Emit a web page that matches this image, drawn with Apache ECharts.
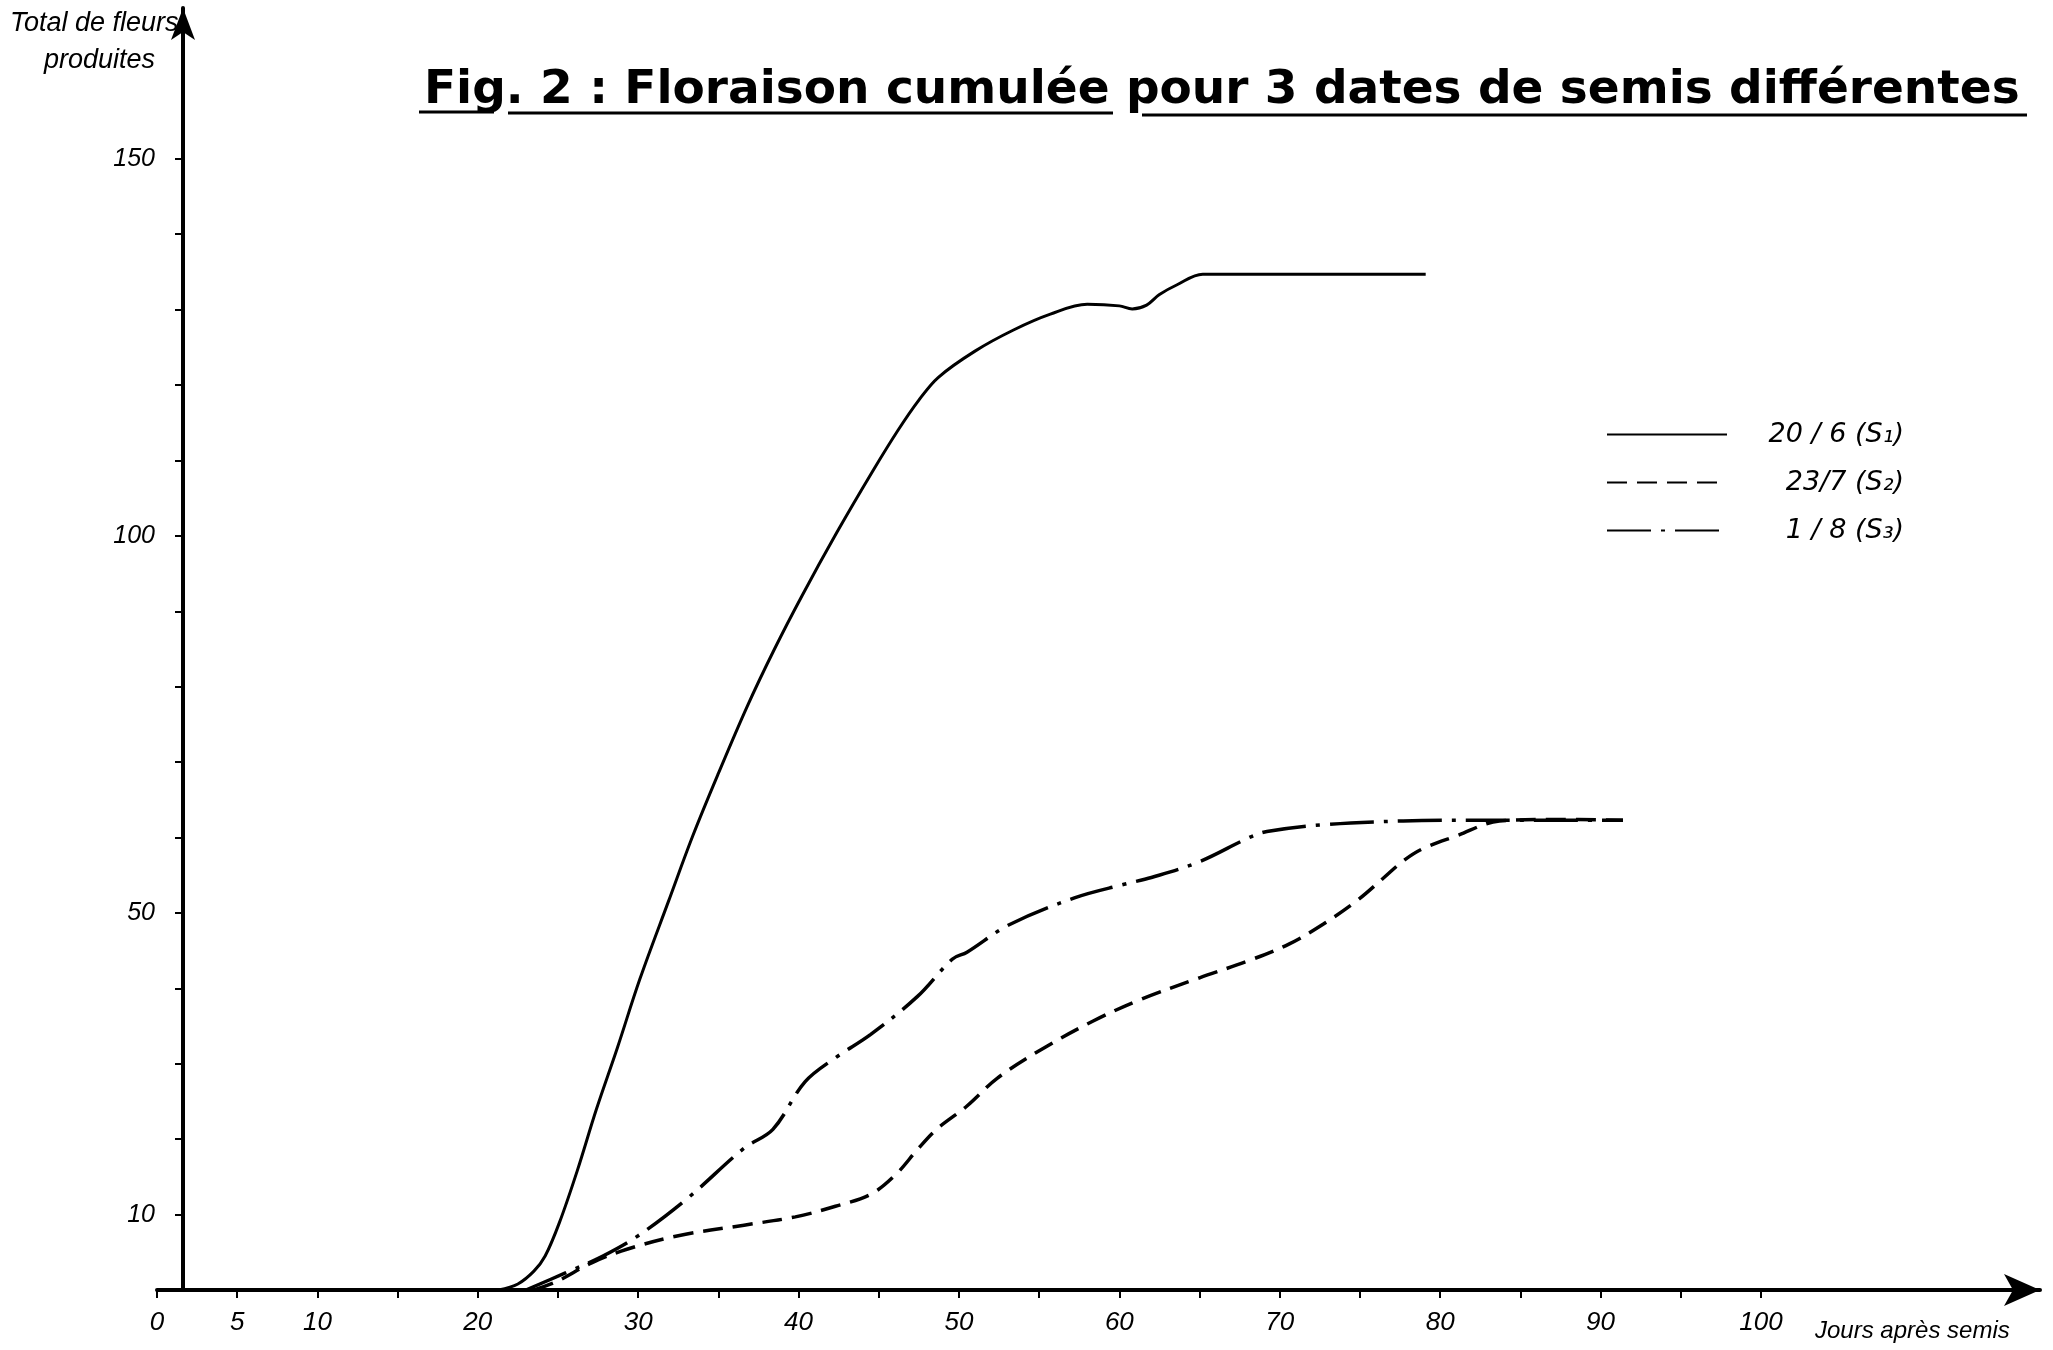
<!DOCTYPE html>
<html><head><meta charset="utf-8">
<script src="https://cdn.jsdelivr.net/npm/echarts@6/dist/echarts.min.js"></script>
<style>html,body{margin:0;padding:0;background:#fff}#c{width:2053px;height:1350px}</style>
</head><body><div id="c"></div><script>
// ---- data ----
const xTickValues = [0,5,10,15,20,25,30,35,40,45,50,55,60,65,70,75,80,85,90,95,100];
const xLabelValues = [0,5,10,20,30,40,50,60,70,80,90,100];
const yTickValues = [10,20,30,40,50,60,70,80,90,100,110,120,130,140,150];
const yLabelValues = [10,50,100,150];

const seriesNames = ['20 / 6 (S\u2081)', '23/7 (S\u2082)', '1 / 8 (S\u2083)'];

const s1Days   = [21.3,22.5,23.5,24.2,25.1,26.2,27.4,28.7,30.1,31.9,33.4,35.0,36.8,38.5,40.2,42.4,44.6,46.2,47.5,48.7,51.0,53.4,55.7,58.0,60.0,60.8,61.7,62.5,63.6,65.2,79.1];
const s1Values = [0,0.8,2.5,4.5,9,15.8,24,32.1,41.2,51.6,60.2,68.5,77.4,85,92,100.5,108.5,114,118,121,124.5,127.3,129.4,130.7,130.5,130.1,130.6,132,133.3,134.7,134.7];

const s2Days   = [23.5,24.9,27.1,29.3,32.5,36.6,39.8,42.3,44.5,46.1,47.4,48.6,50.5,52.4,55.3,58.4,61.3,65.0,68.1,70.6,72.7,74.8,76.4,77.7,78.9,81.0,83.7,86.8,91.4];
const s2Values = [0,1.1,3.6,5.4,7.2,8.6,9.7,11.1,12.7,15.4,18.6,21.3,24.4,28.1,32.1,35.7,38.5,41.4,43.7,45.9,48.5,51.6,54.5,56.9,58.5,60.2,62.2,62.4,62.3];

const s3Days   = [23.0,25.5,27.8,30.0,33.1,36.6,38.4,40.4,42.3,44.5,47.4,49.6,50.5,53.1,57.2,60.3,62.0,65.0,68.1,69.2,72.7,77.7,81.9,91.4];
const s3Values = [0,2.3,4.5,7.2,12.2,18.8,21.3,27.6,30.8,33.9,38.9,43.9,44.8,48.4,52.0,53.8,54.7,56.8,60.0,60.8,61.7,62.2,62.3,62.3];

const pairs = (xs, ys) => xs.map((x, i) => [x, ys[i]]);

const chart = echarts.init(document.getElementById('c'), null, {renderer: 'canvas'});
const labelFont = 'Liberation Sans';
chart.setOption({
  backgroundColor: '#fff',
  animation: false,
  title: [
    {text: 'Fig. 2 : Floraison cumulée pour 3 dates de semis différentes', left: 419, top: 62,
     textStyle: {fontFamily: 'DejaVu Sans', fontWeight: 'bold', fontSize: 47, color: '#000'}},
    {text: 'Total de fleurs', left: 5, top: 5,
     textStyle: {fontFamily: labelFont, fontStyle: 'italic', fontWeight: 'normal', fontSize: 27, color: '#000'}},
    {text: 'produites', left: 39, top: 42,
     textStyle: {fontFamily: labelFont, fontStyle: 'italic', fontWeight: 'normal', fontSize: 27, color: '#000'}},
    {text: 'Jours après semis', left: 1810, top: 1314,
     textStyle: {fontFamily: labelFont, fontStyle: 'italic', fontWeight: 'normal', fontSize: 24, color: '#000'}}
  ],
  legend: {
    orient: 'vertical', left: 1601, top: 416, itemWidth: 120, itemHeight: 20, itemGap: 21,
    itemStyle: {opacity: 0},
    formatter: name => '{t|' + name + '}',
    textStyle: {color: '#000', rich: {t: {fontFamily: 'DejaVu Sans', fontStyle: 'italic', fontSize: 27, color: '#000', width: 172, align: 'right'}}},
    data: seriesNames
  },
  grid: {left: 157, right: 13, top: 8, bottom: 60, containLabel: false},
  xAxis: {
    type: 'value', min: 0, max: 117.4,
    splitLine: {show: false},
    axisLine: {show: true, lineStyle: {color: '#000', width: 4}, symbol: ['none', 'arrow'], symbolSize: [24, 36]},
    axisTick: {show: true, length: 8, lineStyle: {color: '#000', width: 2}, customValues: xTickValues},
    axisLabel: {customValues: xLabelValues, margin: 20, fontFamily: labelFont, fontStyle: 'italic', fontSize: 26, color: '#000'}
  },
  yAxis: {
    type: 'value', min: 0, max: 170, offset: -26,
    splitLine: {show: false},
    axisLine: {show: true, lineStyle: {color: '#000', width: 4}, symbol: ['none', 'arrow'], symbolSize: [18, 32]},
    axisTick: {show: true, length: 8, lineStyle: {color: '#000', width: 2}, customValues: yTickValues},
    axisLabel: {customValues: yLabelValues, margin: 28, fontFamily: labelFont, fontStyle: 'italic', fontSize: 25, color: '#000'}
  },
  series: [
    {name: seriesNames[0], type: 'line', data: pairs(s1Days, s1Values), smooth: 0.35, showSymbol: false, symbol: 'none',
     lineStyle: {color: '#000', width: 3, type: 'solid'}, itemStyle: {color: '#000'}},
    {name: seriesNames[1], type: 'line', data: pairs(s2Days, s2Values), smooth: 0.35, showSymbol: false, symbol: 'none',
     lineStyle: {color: '#000', width: 3.5, type: [20, 10]}, itemStyle: {color: '#000'}},
    {name: seriesNames[2], type: 'line', data: pairs(s3Days, s3Values), smooth: 0.35, showSymbol: false, symbol: 'none',
     lineStyle: {color: '#000', width: 3.5, type: [44, 10, 4, 10]}, itemStyle: {color: '#000'}}
  ],
  graphic: [
    {type: 'line', shape: {x1: 419, y1: 112, x2: 494, y2: 112}, style: {stroke: '#000', lineWidth: 3}},
    {type: 'line', shape: {x1: 508, y1: 113, x2: 1113, y2: 113}, style: {stroke: '#000', lineWidth: 3}},
    {type: 'line', shape: {x1: 1142, y1: 115, x2: 2027, y2: 115}, style: {stroke: '#000', lineWidth: 3}}
  ]
});
</script></body></html>
